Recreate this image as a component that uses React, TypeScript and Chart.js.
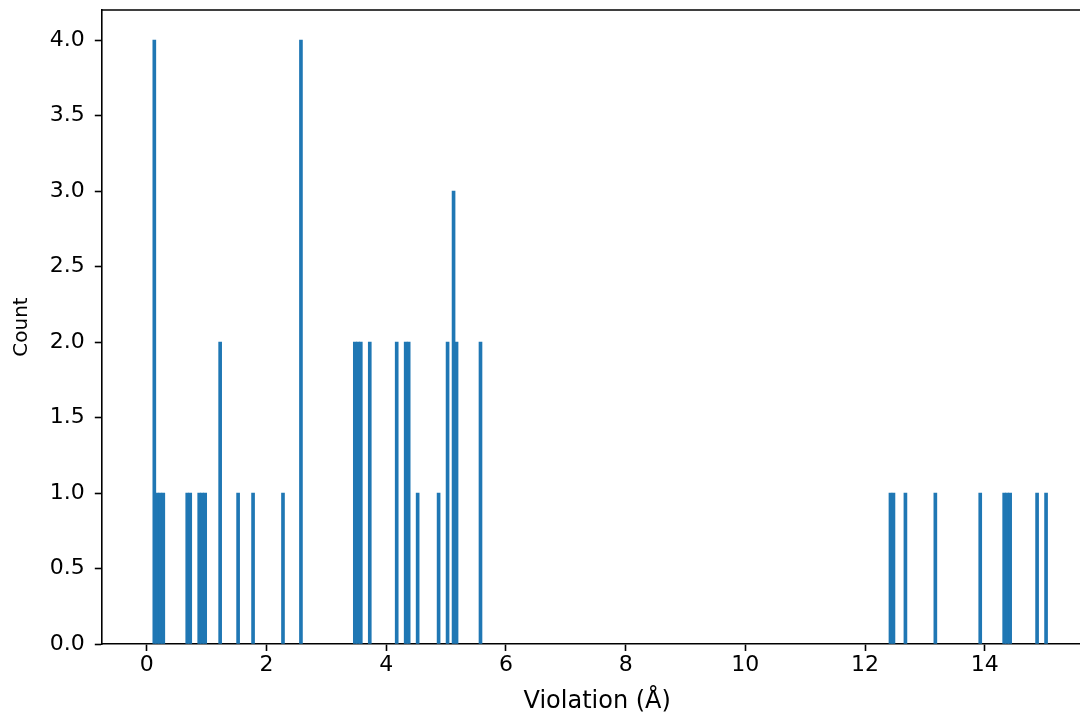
import React, { useEffect, useRef } from "react";
import { Chart, registerables } from "chart.js";

Chart.register(...registerables);

// Histogram bins (left edges, Å) that hold at least one count, bin width 0.05 Å
const binWidth = 0.05;
const binStarts = [
  0.1, 0.15, 0.2, 0.25, 0.65, 0.7, 0.85, 0.9, 0.95, 1.2, 1.5, 1.75, 2.25, 2.55,
  3.45, 3.5, 3.55, 3.7, 4.15, 4.3, 4.35, 4.5, 4.85, 5.0, 5.1, 5.15, 5.55,
  12.4, 12.45, 12.65, 13.15, 13.9, 14.3, 14.35, 14.4, 14.85, 15.0,
];
const counts = [
  4, 1, 1, 1, 1, 1, 1, 1, 1, 2, 1, 1, 1, 4,
  2, 2, 2, 2, 2, 2, 2, 1, 1, 2, 3, 2, 2,
  1, 1, 1, 1, 1, 1, 1, 1, 1, 1,
];

// Axis limits and ticks
const xMin = -0.7525;
const xMax = 15.8025;
const yMin = 0;
const yMax = 4.2;
const xTickValues = [0, 2, 4, 6, 8, 10, 12, 14];
const yTickValues = [0, 0.5, 1, 1.5, 2, 2.5, 3, 3.5, 4];
const xTitle = "Violation (Å)";
const yTitle = "Count";

const BAR_COLOR = "#1f77b4";
const FONT = "'DejaVu Sans', sans-serif";

const spinePlugin = {
  id: "spines",
  afterDraw(chart: any) {
    const { ctx, chartArea } = chart;
    ctx.save();
    ctx.strokeStyle = "#000";
    ctx.lineWidth = 1.6;
    ctx.beginPath();
    ctx.moveTo(chartArea.left - 0.8, chartArea.top);
    ctx.lineTo(chartArea.right + 0.8, chartArea.top);
    ctx.moveTo(chartArea.right, chartArea.top);
    ctx.lineTo(chartArea.right, chartArea.bottom);
    ctx.stroke();
    ctx.restore();
  },
};

export default function App() {
  const ref = useRef<HTMLCanvasElement | null>(null);

  useEffect(() => {
    if (!ref.current) return;
    const data = binStarts.map((s, i) => ({ x: s + binWidth / 2, y: counts[i] }));
    const chart = new Chart(ref.current, {
      type: "bar",
      data: {
        datasets: [
          {
            data,
            backgroundColor: BAR_COLOR,
            borderWidth: 0,
            barPercentage: 1,
            categoryPercentage: 1,
          },
        ],
      },
      options: {
        animation: false,
        responsive: false,
        devicePixelRatio: 1,
        layout: { padding: { left: 0, top: 10, right: 17.4, bottom: 0 } },
        plugins: {
          legend: { display: false },
          tooltip: { enabled: false },
        },
        scales: {
          x: {
            type: "linear",
            min: xMin,
            max: xMax,
            offset: false,
            afterBuildTicks: (scale: any) => {
              scale.ticks = xTickValues.map((v) => ({ value: v }));
            },
            afterFit: (scale: any) => {
              scale.height = 96;
              scale.paddingLeft = 0;
              scale.paddingRight = 0;
            },
            grid: {
              display: true,
              offset: false,
              drawOnChartArea: false,
              drawTicks: true,
              tickLength: 7,
              tickColor: "#000",
              tickWidth: 1.6,
            },
            border: { display: true, color: "#000", width: 1.6 },
            ticks: {
              autoSkip: false,
              maxRotation: 0,
              padding: 1,
              color: "#000",
              font: { family: FONT, size: 22, lineHeight: 1.2 },
              callback: (v: any) => String(v),
            },
            title: {
              display: true,
              text: xTitle,
              color: "#000",
              font: { family: FONT, size: 24, lineHeight: 1.2 },
              padding: { top: 0, bottom: 24 },
            },
          },
          y: {
            type: "linear",
            min: yMin,
            max: yMax,
            afterBuildTicks: (scale: any) => {
              scale.ticks = yTickValues.map((v) => ({ value: v }));
            },
            afterFit: (scale: any) => {
              scale.width = 101.8;
              scale.paddingTop = 0;
              scale.paddingBottom = 0;
            },
            grid: {
              display: true,
              offset: false,
              drawOnChartArea: false,
              drawTicks: true,
              tickLength: 7,
              tickColor: "#000",
              tickWidth: 1.6,
            },
            border: { display: true, color: "#000", width: 1.6 },
            ticks: {
              autoSkip: false,
              padding: 10,
              color: "#000",
              font: { family: FONT, size: 22, lineHeight: 1.2 },
              callback: (v: any) => Number(v).toFixed(1),
            },
            title: {
              display: true,
              text: yTitle,
              color: "#000",
              font: { family: FONT, size: 20, lineHeight: 1.2 },
              padding: { top: 9.5, bottom: 0 },
            },
          },
        },
      },
      plugins: [spinePlugin],
    } as any);
    return () => chart.destroy();
  }, []);

  return (
    <div
      style={{
        position: "fixed",
        left: 0,
        top: 0,
        width: 1080,
        height: 712,
        overflow: "hidden",
        background: "#fff",
      }}
    >
      <canvas ref={ref} width={1110} height={740} style={{ display: "block", width: 1110, height: 740 }} />
    </div>
  );
}
